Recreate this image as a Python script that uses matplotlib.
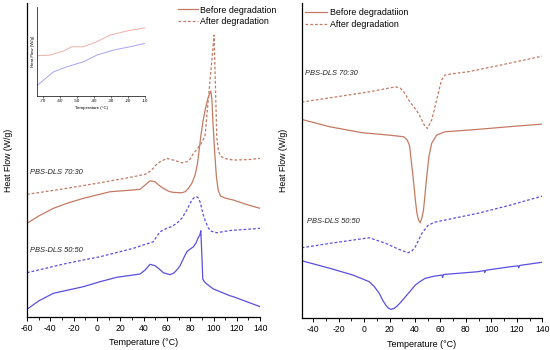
import matplotlib
matplotlib.use("Agg")
import matplotlib.pyplot as plt
from matplotlib.ticker import MultipleLocator

plt.rcParams['font.family'] = ['Liberation Sans', 'DejaVu Sans']
plt.rcParams['axes.unicode_minus'] = False

RED = '#c47a62'
BLUE = '#5a4fe0'
DASH = (0, (2.2, 1.6))

# ---- left panel: heating scans ----
t_b73 = [-60, -50, -37.4, -25, -11.7, 11.2, 30, 37, 41.3, 45.6, 49.9, 53, 57, 62, 65.6, 72.8,
         76, 78.5, 81.5, 84.2, 86, 87.5, 89, 91, 93, 95, 96.8, 97.7, 98.6, 99.5, 101, 102.5,
         104, 106, 110, 117, 130, 140]
y_b73 = [93.7, 101, 108.7, 114, 118.7, 125.3, 127, 127.7, 132, 136.3, 135.3, 132, 128.7, 125.5,
         124.7, 124.3, 125.5, 128.7, 134, 142, 152, 165, 180, 196, 208, 218, 224, 226, 218, 195,
         165, 140, 127, 121, 119, 117, 112, 108.7]

t_a73 = [-60, -25.9, 2.7, 31.2, 42, 47, 50.5, 54.2, 59.9, 65.6, 72.8, 77.1, 80, 82.8, 86, 89,
         91, 92.8, 100.5, 102.8, 104, 105.5, 107, 110, 117, 130, 140]
y_a73 = [122.7, 128.7, 134.3, 140.3, 143, 147, 152, 155.3, 158.7, 157, 154.3, 155.3, 158, 163.7,
         168, 173, 177, 182, 282, 180, 168, 162, 160.3, 158.5, 157, 157.5, 158.7]

t_a55 = [-60, -25.9, 2.7, 31.2, 48.4, 51, 54.2, 59.9, 64, 68.5, 73, 77.1, 81.4, 83.5, 85.7,
         87, 88.5, 91, 93, 95.6, 97.5, 102.8, 114, 140]
y_a55 = [44.3, 53.7, 60.3, 68.7, 75.3, 80, 85.3, 88.7, 90.5, 93.7, 99, 107, 117, 119.5, 120.3,
         119, 115, 103, 96, 89, 86, 84.3, 86.5, 88.7]

t_b55 = [-60, -50, -37.4, -11.7, 2.7, 17, 37, 41.3, 45.6, 49.9, 53.5, 57, 62.7, 66, 68.5, 71.3,
         74, 77.1, 80, 82.8, 85, 87, 88.3, 89.1, 90, 90.8, 92, 94.2, 99.9, 114, 117, 140]
y_b55 = [7.7, 16, 23.7, 30.3, 35.3, 39.7, 43, 47, 52.7, 51.3, 48, 44.3, 42.3, 44, 47, 51.3, 58,
         65.3, 68, 70.3, 74, 79.7, 82, 86.3, 62, 38, 35.5, 33, 28, 21.3, 20.3, 10.3]

# ---- inset: low temperature region ----
t_in_r = [-73.5, -66, -58.2, -53.2, -46.4, -38.5, -30.6, -20.8, -10]
y_in_r = [44.3, 45, 49, 53.3, 53.3, 58.3, 65, 69, 72.3]
t_in_b = [-73.5, -64, -56.2, -46.4, -38.5, -28.7, -18.9, -10]
y_in_b = [15, 28.3, 33.3, 38.3, 45, 50, 53.3, 56.7]

# ---- right panel: cooling scans ----
t_rb73 = [-49, -26.8, -1, 19.6, 31.2, 34, 35.8, 37.6, 39, 40.3, 41.5, 42.8, 44.1, 45.4, 46.7,
          48, 49.2, 51, 53.1, 57, 63.5, 89.2, 115, 140]
y_rb73 = [198.7, 191.3, 185.3, 183, 181.3, 178, 172, 151.3, 135, 118, 105, 98, 95.3, 100, 108,
          125, 141.3, 162, 174.7, 183, 186.3, 188.7, 191.5, 194]

t_ra73 = [-49, -21.6, 4.1, 24.8, 28.7, 32, 35.1, 42.8, 48, 49.8, 53.1, 57, 60.8, 63.5, 70, 81.5,
          107.2, 140]
y_ra73 = [216, 221.3, 226.3, 231.3, 229.7, 225, 218, 204.7, 191.3, 189.7, 198, 218, 238, 243,
          244.5, 246.3, 253, 262]

t_ra55 = [-49, -26.8, 4.1, 17, 27.3, 34.5, 37.5, 40.3, 45.4, 50.5, 56, 63.5, 89.2, 115, 140]
y_ra55 = [70.3, 74.7, 80.3, 74.7, 68.7, 65.3, 67, 71.3, 84.7, 93, 96, 98, 104.7, 113, 122]

t_rb55 = [-49, -26.8, -8.8, 4.1, 8, 11.9, 15, 17, 19, 20.9, 23.5, 26, 29, 32.5, 36, 40.3, 44,
          48, 55, 61.2, 61.6, 62.4, 70, 89.2, 94.4, 94.8, 95.6, 115, 121.1, 121.5, 122.3, 140]
y_rb55 = [57.3, 49.7, 43, 36.3, 31.5, 24.7, 17, 13, 10, 8.7, 9.5, 12, 16, 21.3, 26.5, 33, 36.5,
          39.7, 41.8, 43, 40.5, 43.5, 44.3, 46.3, 47.5, 45.5, 47.8, 51.3, 52.2, 50.3, 52.6, 55.8]

fig = plt.figure(figsize=(5.5, 3.5), dpi=100)


def style_axis(ax, xmin, xmax, ymax):
    ax.set_xlim(xmin, xmax)
    ax.set_ylim(0, ymax)
    ax.spines['top'].set_visible(False)
    ax.spines['right'].set_visible(False)
    ax.spines['left'].set_linewidth(0.9)
    ax.spines['bottom'].set_linewidth(0.9)
    ax.set_yticks([])
    ax.xaxis.set_major_locator(MultipleLocator(20))
    ax.xaxis.set_minor_locator(MultipleLocator(10))
    ax.tick_params(axis='x', which='major', direction='out', length=3, width=0.7,
                   labelsize=6.2, pad=2)
    ax.tick_params(axis='x', which='minor', direction='out', length=2, width=0.6)
    ax.set_xlabel('Temperature (\u00b0C)', fontsize=6.5, labelpad=4)
    ax.set_ylabel('Heat Flow (W/g)', fontsize=6.3, labelpad=10)


# left
ax1 = fig.add_axes([0.049, 0.0943, 0.424, 0.8967])
ax1.plot(t_b73, y_b73, color=RED, lw=0.9, label='Before degradation')
ax1.plot(t_a73, y_a73, color=RED, lw=0.9, ls=DASH, label='After degradation')
ax1.plot(t_a55, y_a55, color=BLUE, lw=0.9, ls=DASH)
ax1.plot(t_b55, y_b55, color=BLUE, lw=0.9)
style_axis(ax1, -60, 140, 314)
ax1.text(-57.4, 144.3, 'PBS-DLS 70:30', fontsize=5.4, style='italic', va='center', color='#222222')
ax1.text(-57.4, 66.3, 'PBS-DLS 50:50', fontsize=5.4, style='italic', va='center', color='#222222')
ax1.legend(loc='upper left', bbox_to_anchor=(0.3236, 0.984), bbox_transform=fig.transFigure,
           frameon=False, fontsize=6.4, handlelength=2.2, handletextpad=0.3,
           labelspacing=0.3, borderpad=0, borderaxespad=0)

# inset
axi = fig.add_axes([0.068, 0.726, 0.196, 0.255])
axi.plot(t_in_r, y_in_r, color='#eab0a4', lw=0.7)
axi.plot(t_in_b, y_in_b, color='#a8a4f2', lw=0.7)
axi.set_xlim(-73.5, -10)
axi.set_ylim(4.3, 93.3)
axi.spines['top'].set_visible(False)
axi.spines['right'].set_visible(False)
axi.spines['left'].set_linewidth(0.5)
axi.spines['bottom'].set_linewidth(0.5)
axi.set_yticks([])
axi.set_xticks([-70, -60, -50, -40, -30, -20, -10])
axi.tick_params(axis='x', direction='out', length=1.5, width=0.4, labelsize=3.2, pad=1)
axi.set_xlabel('Temperature (\u00b0C)', fontsize=3.2, labelpad=2)
axi.set_ylabel('Heat Flow (W/g)', fontsize=3.2, labelpad=2)

# right
ax2 = fig.add_axes([0.5485, 0.0914, 0.4375, 0.8996])
ax2.plot(t_rb73, y_rb73, color=RED, lw=0.9, label='Before degradatiion')
ax2.plot(t_ra73, y_ra73, color=RED, lw=0.9, ls=DASH, label='After degradation')
ax2.plot(t_ra55, y_ra55, color=BLUE, lw=0.9, ls=DASH)
ax2.plot(t_rb55, y_rb55, color=BLUE, lw=0.9)
style_axis(ax2, -49, 140, 315)
ax2.text(-46.1, 245, 'PBS-DLS 70:30', fontsize=5.4, style='italic', va='center', color='#222222')
ax2.text(-44.8, 96.3, 'PBS-DLS 50:50', fontsize=5.4, style='italic', va='center', color='#222222')
ax2.legend(loc='upper left', bbox_to_anchor=(0.5545, 0.976), bbox_transform=fig.transFigure,
           frameon=False, fontsize=6.4, handlelength=2.5, handletextpad=0.3,
           labelspacing=0.3, borderpad=0, borderaxespad=0)

fig.savefig('out.png', dpi=100)
